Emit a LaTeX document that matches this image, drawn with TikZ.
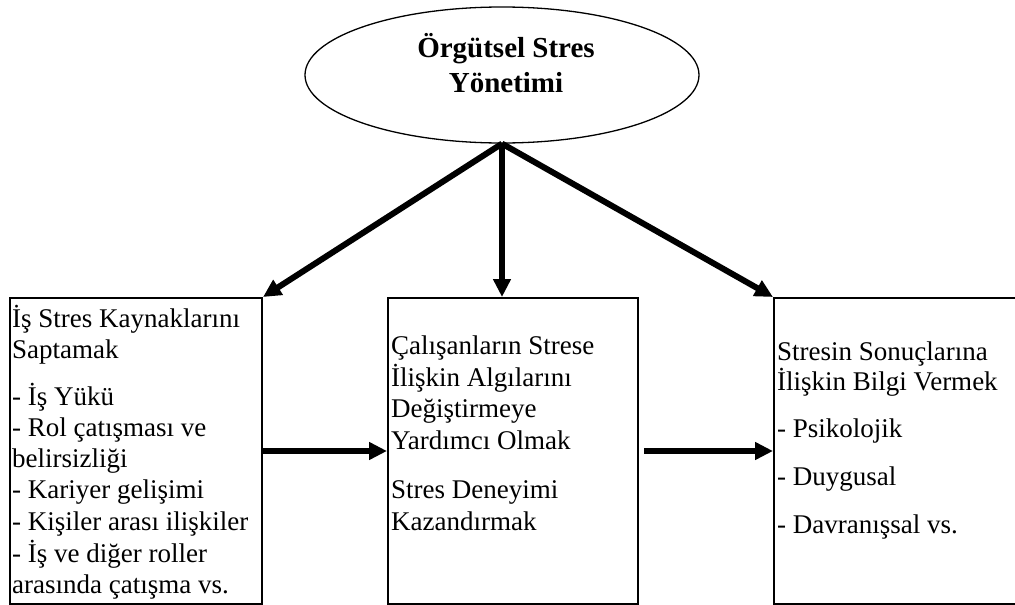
\documentclass[tikz,border=0pt]{standalone}
\usepackage{fontspec}
\setmainfont{Liberation Serif}
\usetikzlibrary{arrows.meta,shapes.geometric}
\begin{document}
\begin{tikzpicture}[x=1pt,y=-1pt,
  box/.style={draw,line width=2pt,rectangle,anchor=north west,inner sep=0pt,minimum height=306pt},
  arr/.style={line width=6pt,-{Triangle[length=18pt,width=17pt]}},
  txt/.style={anchor=base west,inner sep=0pt,font=\fontsize{27}{31}\selectfont},
  ttl/.style={anchor=base,inner sep=0pt,font=\fontsize{29}{33}\selectfont\bfseries}]
\useasboundingbox (0,0) rectangle (1015,605);
\clip (0,0) rectangle (1015,605);
% top ellipse
\node[ellipse,draw,line width=1.3pt,minimum width=394pt,minimum height=136pt,inner sep=0pt] (E) at (502,75) {};
\node[ttl] (T1) at (506,57) {Örgütsel Stres};
\node[ttl] (T2) at (506,92) {Yönetimi};
% boxes
\node[box,minimum width=252pt] (A) at (9,297) {};
\node[box,minimum width=250pt] (B) at (387,297) {};
\node[box,minimum width=280pt] (C) at (773,297) {};
% arrows
\draw[arr] (E.south) -- (A.north east);
\draw[arr,line width=5.5pt] (E.south) -- (E.south |- B.north);
\draw[arr] (E.south) -- (C.north west);
\draw[arr] (A.east) -- (B.west);
\draw[arr] ([xshift=5pt]B.east) -- (C.west);
% texts
\foreach \t/\y [count=\i] in {İş Stres Kaynaklarını/327, Saptamak/358, - İş Yükü/405,
  - Rol çatışması ve/436, belirsizliği/467, - Kariyer gelişimi/498,
  - Kişiler arası ilişkiler/530, - İş ve diğer roller/562, arasında çatışma vs./593}
  \node[txt] (L\i) at (12,\y) {\t};
\foreach \t/\y [count=\i] in {Çalışanların Strese/354, İlişkin Algılarını/386, Değiştirmeye/417,
  Yardımcı Olmak/449, Stres Deneyimi/498, Kazandırmak/530}
  \node[txt] (M\i) at (391,\y) {\t};
\foreach \t/\y [count=\i] in {Stresin Sonuçlarına/360, İlişkin Bilgi Vermek/390, - Psikolojik/437,
  - Duygusal/485, - Davranışsal vs./533}
  \node[txt] (R\i) at (777,\y) {\t};
\end{tikzpicture}
\end{document}
